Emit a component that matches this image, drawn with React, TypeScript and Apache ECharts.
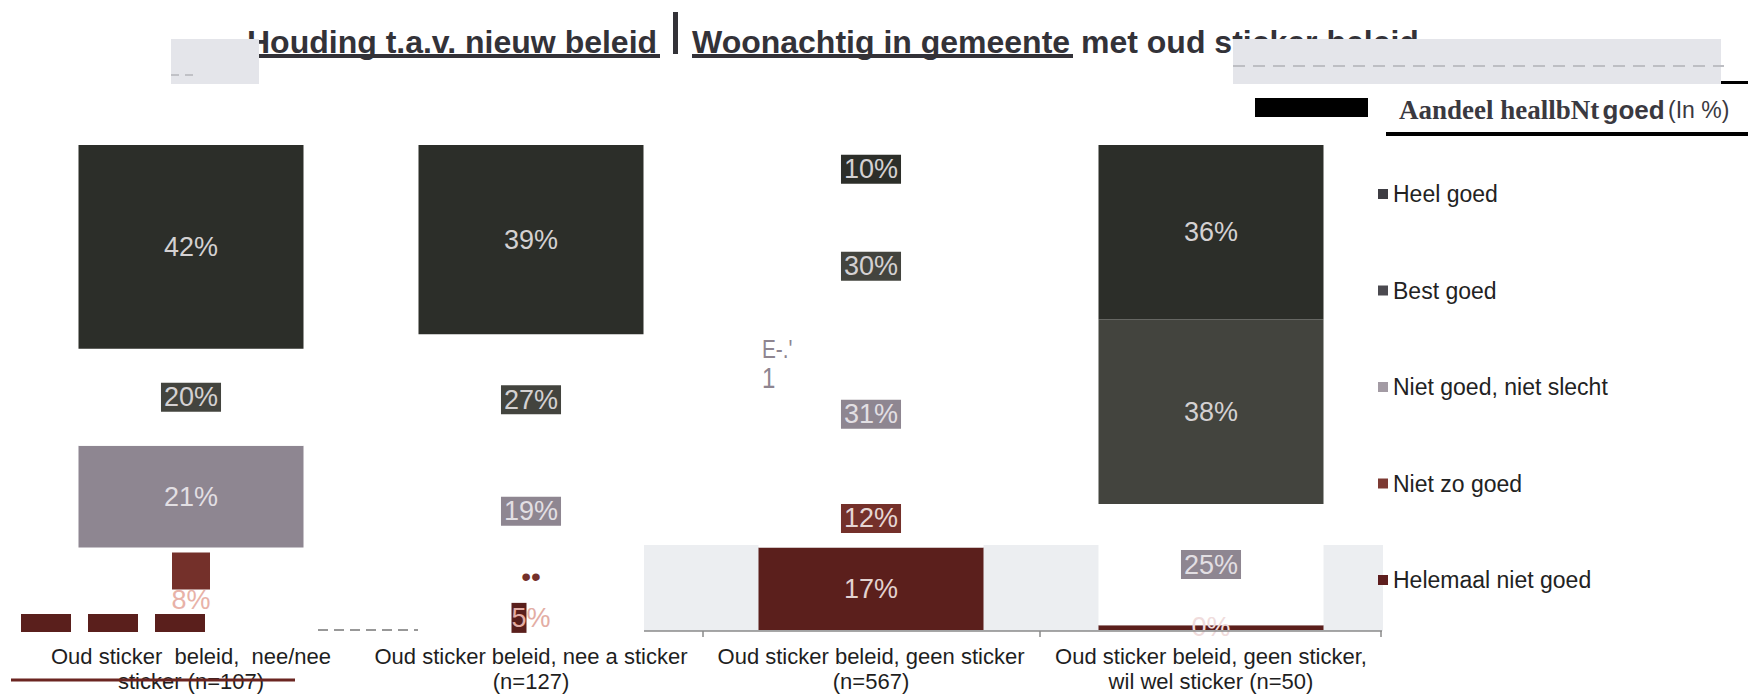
import React, { useEffect, useRef } from "react";
import * as echarts from "echarts";

// ---------- data ----------
const categories = [
  "Oud sticker  beleid,  nee/nee\nsticker (n=107)",
  "Oud sticker beleid, nee a sticker\n(n=127)",
  "Oud sticker beleid, geen sticker\n(n=567)",
  "Oud sticker beleid, geen sticker,\nwil wel sticker (n=50)",
];
const seriesNames = [
  "Heel goed",
  "Best goed",
  "Niet goed, niet slecht",
  "Niet zo goed",
  "Helemaal niet goed",
];
const heelGoed = [42, 39, 10, 36];
const bestGoed = [20, 27, 30, 38];
const nietGoedNietSlecht = [21, 19, 31, 25];
const nietZoGoed = [8, 10, 12, 0];
const helemaalNietGoed = [9, 5, 17, 1];
const aandeelGoed = [63, 67, 40, 74];

// ---------- styles ----------
const barColors = ["#2c2e29", "#43443e", "#8e8691", "#74302a", "#5b1f1c"];
const legendColors = ["#3e3d43", "#4b4a50", "#a39ba4", "#7d3a33", "#5e1e1e"];
const labelColors = ["#d4d1d2", "#d4d1d2", "#e2dfe3", "#e6d6d4", "#e2d2d0"];
// segments that appear blank (only a label box is visible)
const blanks = [
  [false, false, true, false],
  [true, true, true, false],
  [false, true, true, true],
  [true, true, true, false],
  [true, true, false, false],
];

const FONT = "'Liberation Sans', Arial, sans-serif";

export default function App() {
  const ref = useRef<HTMLDivElement>(null);

  useEffect(() => {
    if (!ref.current) return;
    const chart = echarts.init(ref.current, undefined, { renderer: "svg" });
    const values = [heelGoed, bestGoed, nietGoedNietSlecht, nietZoGoed, helemaalNietGoed];

    const overrides: Record<string, any> = {
      "3-0": {
        backgroundColor: "transparent",
        padding: 0,
        formatter: (p: any) => `{box| }\n{t|${p.value}%}`,
        rich: {
          box: { width: 38, height: 37, backgroundColor: "#74302a" },
          t: { color: "#e8b2a8", fontSize: 27, lineHeight: 22, fontFamily: FONT },
        },
        offset: [0, 15],
      },
      "4-0": { show: false },
      "3-1": {
        backgroundColor: "transparent",
        padding: 0,
        formatter: "••",
        color: "#74302a",
        fontSize: 28,
        offset: [0, -5],
      },
      "4-1": {
        backgroundColor: "transparent",
        padding: 0,
        formatter: (p: any) => `{a|${p.value}}{b|%}`,
        rich: {
          a: { backgroundColor: "#5a1f1c", color: "#e3ada4", fontSize: 27, padding: [2, 0, 1, 0], fontFamily: FONT },
          b: { color: "#e3ada4", fontSize: 27, fontFamily: FONT },
        },
      },
      "3-3": { color: "#f0dcdc", offset: [0, 2] },
      "4-3": { show: false },
    };

    const makeItem = (s: number, c: number) => {
      const d: any = { value: values[s][c] };
      if (blanks[s][c]) {
        d.itemStyle = { color: "#ffffff" };
        d.label = { backgroundColor: barColors[s], padding: [2, 3, 0, 3] };
      }
      const ov = overrides[`${s}-${c}`];
      if (ov) d.label = { ...(d.label || {}), ...ov };
      return d;
    };

    const barSeries = seriesNames.map((name, s) => ({
      name,
      type: "bar",
      stack: "total",
      barWidth: 225,
      itemStyle: { color: barColors[s] },
      label: {
        show: true,
        position: "inside",
        formatter: "{c}%",
        fontSize: 27,
        fontFamily: FONT,
        color: labelColors[s],
      },
      data: categories.map((_, c) => makeItem(s, c)),
    }));
    barSeries.reverse();

    const g: any[] = [];
    // light scanned background at the bottom right
    g.push({ type: "rect", z: 0, shape: { x: 644, y: 545, width: 739, height: 86 }, style: { fill: "#eceef1" } });
    // partial axis line with ticks
    g.push({ type: "line", z: 10, shape: { x1: 644, y1: 631, x2: 1382, y2: 631 }, style: { stroke: "#8a8a8a", lineWidth: 1.5 } });
    [703, 1040, 1381].forEach((x) =>
      g.push({ type: "line", z: 10, shape: { x1: x, y1: 631, x2: x, y2: 637 }, style: { stroke: "#8a8a8a", lineWidth: 1.5 } })
    );
    // title
    const tFont = `bold 32px ${FONT}`;
    g.push({ type: "text", z: 10, x: 247, y: 42, style: { text: "Houding t.a.v. nieuw beleid", font: tFont, fill: "#333238", verticalAlign: "middle" } });
    g.push({ type: "rect", z: 10, shape: { x: 247, y: 54, width: 413, height: 4 }, style: { fill: "#333238" } });
    g.push({ type: "rect", z: 10, shape: { x: 673, y: 12, width: 5, height: 42 }, style: { fill: "#333238" } });
    g.push({ type: "text", z: 10, x: 692, y: 42, style: { text: "Woonachtig in gemeente", font: tFont, fill: "#333238", verticalAlign: "middle" } });
    g.push({ type: "rect", z: 10, shape: { x: 692, y: 54, width: 381, height: 4 }, style: { fill: "#333238" } });
    g.push({ type: "text", z: 10, x: 1081, y: 42, style: { text: "met oud sticker beleid", font: tFont, fill: "#333238", verticalAlign: "middle" } });
    // grey overlays
    g.push({ type: "rect", z: 11, shape: { x: 171, y: 39, width: 88, height: 45 }, style: { fill: "#e4e5ea" } });
    g.push({ type: "line", z: 12, shape: { x1: 171, y1: 75, x2: 197, y2: 75 }, style: { stroke: "#c0c1c6", lineWidth: 2, lineDash: [8, 6] } });
    g.push({ type: "rect", z: 11, shape: { x: 1233, y: 39, width: 488, height: 45 }, style: { fill: "#e4e5ea" } });
    g.push({ type: "line", z: 12, shape: { x1: 1233, y1: 66, x2: 1724, y2: 66 }, style: { stroke: "#bdbec3", lineWidth: 2, lineDash: [12, 8] } });
    g.push({ type: "rect", z: 11, shape: { x: 1721, y: 81, width: 27, height: 3 }, style: { fill: "#000" } });
    // legend heading
    g.push({ type: "rect", z: 11, shape: { x: 1255, y: 98, width: 113, height: 19 }, style: { fill: "#000" } });
    g.push({
      type: "text",
      z: 11,
      x: 1399,
      y: 110,
      style: {
        text: "{s|Aandeel heallbNt} {b|goed} {r|(In %)}",
        verticalAlign: "middle",
        rich: {
          s: { fontFamily: "'Liberation Serif', serif", fontWeight: "bold", fontSize: 27, fill: "#3a3940" },
          b: { fontFamily: FONT, fontWeight: "bold", fontSize: 26, fill: "#3a3940" },
          r: { fontFamily: FONT, fontSize: 23, fill: "#3a3940" },
        },
      },
    });
    g.push({ type: "rect", z: 11, shape: { x: 1386, y: 132, width: 362, height: 4 }, style: { fill: "#000" } });
    // bottom artefacts
    [21, 88, 155].forEach((x) =>
      g.push({ type: "rect", z: 10, shape: { x, y: 614, width: 50, height: 18 }, style: { fill: "#5a1f1c" } })
    );
    g.push({ type: "line", z: 10, shape: { x1: 11, y1: 680, x2: 295, y2: 680 }, style: { stroke: "#6b2521", lineWidth: 3 } });
    g.push({ type: "line", z: 10, shape: { x1: 318, y1: 630, x2: 418, y2: 630 }, style: { stroke: "#777", lineWidth: 1.5, lineDash: [10, 6] } });
    g.push({ type: "text", z: 10, x: 762, y: 336, scaleX: 0.8, style: { text: "E-.'", font: `26px ${FONT}`, fill: "#8e8590" } });
    g.push({ type: "text", z: 10, x: 762, y: 362, scaleX: 0.8, style: { text: "1", font: `30px ${FONT}`, fill: "#8e8590" } });

    chart.setOption({
      animation: false,
      textStyle: { fontFamily: FONT },
      grid: { left: 21, right: 367, top: 145, bottom: 65, containLabel: false, outerBoundsMode: "none" },
      legend: {
        orient: "vertical",
        left: 1373,
        top: 177,
        icon: "rect",
        itemWidth: 10,
        itemHeight: 10,
        itemGap: 72.5,
        textStyle: { fontSize: 23, lineHeight: 24, color: "#222", fontFamily: FONT },
        data: seriesNames.map((name, i) => ({ name, itemStyle: { color: legendColors[i] } })),
        selectedMode: false,
      },
      xAxis: {
        type: "category",
        data: categories,
        axisLine: { show: false },
        axisTick: { show: false },
        axisLabel: { interval: 0, fontSize: 22, lineHeight: 25, color: "#1e1e1e", margin: 14, fontFamily: FONT },
      },
      yAxis: { type: "value", min: 0, max: 100, show: false, splitLine: { show: false } },
      graphic: { elements: g },
      series: [
        ...barSeries,
        {
          name: "totaal",
          type: "scatter",
          symbolSize: 1,
          itemStyle: { opacity: 0 },
          z: 20,
          label: {
            show: true,
            position: "top",
            distance: 12,
            fontSize: 26,
            fontWeight: "bold",
            color: "#111",
            fontFamily: FONT,
            formatter: (p: any) => `${aandeelGoed[p.dataIndex]}%`,
          },
          data: aandeelGoed.map(() => 100),
        },
      ],
    });
    return () => chart.dispose();
  }, []);

  return <div ref={ref} style={{ position: "fixed", left: 0, top: 0, width: 1748, height: 695, background: "#fff" }} />;
}
